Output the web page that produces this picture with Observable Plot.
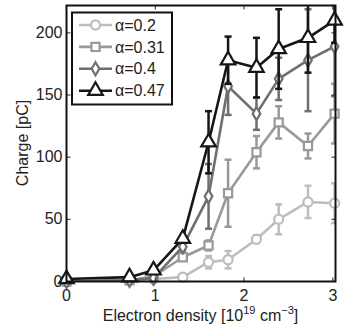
<!DOCTYPE html>
<html>
<head>
<meta charset="utf-8">
<script src="https://cdn.jsdelivr.net/npm/d3@7"></script>
<script src="https://cdn.jsdelivr.net/npm/@observablehq/plot@0.6"></script>
<style>
  html, body { margin: 0; padding: 0; background: #fff; }
  #wrap { position: relative; width: 356px; height: 329px; font-family: "Liberation Sans", Arial, Helvetica, sans-serif; }
  #wrap svg { display: block; }
  .xlabel { position: absolute; left: 0; width: 401px; text-align: center; top: 307px; font-size: 16px; line-height: 18px; color: #222; white-space: nowrap; }
  .xlabel sup { font-size: 11px; line-height: 0; vertical-align: 0; position: relative; top: -7px; }
  .ylabel { position: absolute; left: 23px; top: 143px; transform: translate(-50%, -50%) rotate(-90deg); font-size: 16px; color: #222; white-space: nowrap; }
  #legend { position: absolute; left: 0; top: 0; }
</style>
</head>
<body>
<div id="wrap">
  <div class="xlabel">Electron density [10<sup>19</sup> cm<sup>−3</sup>]</div>
  <div class="ylabel">Charge [pC]</div>
</div>
<script>
// ---- data ----
const density = [0, 0.71, 0.98, 1.31, 1.60, 1.82, 2.14, 2.39, 2.72, 3.02];
const seriesLabels = ["α=0.2", "α=0.31", "α=0.4", "α=0.47"];
const charge02  = [0, 1, 2, 3.5, 15.5, 17.5, 34, 50, 64, 63];
const err02     = [0, 0, 0, 2, 5, 7, 3, 12, 13, 16];
const charge031 = [0, 1, 4, 19.5, 29, 71, 104, 128, 109, 135];
const err031    = [0, 0, 0, 2, 4, 27, 13, 13, 10, 24];
const charge04  = [0, 1, 2.7, 28, 68.5, 157, 135, 163, 178, 189];
const err04     = [0, 0, 0, 3, 26, 23, 13, 17, 41, 40];
const charge047 = [2, 3.5, 9, 34.5, 112, 178, 172, 187, 196, 210];
const err047    = [0, 0, 0, 2, 25, 19, 24, 32, 28, 18];
const xTicks = [0, 1, 2, 3];
const yTicks = [0, 50, 100, 150, 200];

// ---- styles ----
const colors = ["#bdbdbd", "#999999", "#6f6f6f", "#161616"];
const symbols = ["circle", "square", "diamond", "triangle"];
const radii = [4.6, 4.6, 4.0, 5.4];
const charges = [charge02, charge031, charge04, charge047];
const errs = [err02, err031, err04, err047];

const capSymbol = {draw(ctx) { ctx.moveTo(-3.5, 0); ctx.lineTo(3.5, 0); }};
const tickUp = {draw(ctx) { ctx.moveTo(0, 0); ctx.lineTo(0, -4); }};
const tickDown = {draw(ctx) { ctx.moveTo(0, 0); ctx.lineTo(0, 4); }};
const tickRight = {draw(ctx) { ctx.moveTo(0, 0); ctx.lineTo(4, 0); }};
const tickLeft = {draw(ctx) { ctx.moveTo(0, 0); ctx.lineTo(-4, 0); }};

const marks = [];
charges.forEach((vals, s) => {
  const rows = density.map((x, i) => ({x, y: vals[i], e: errs[s][i]}));
  const withErr = rows.filter(d => d.e > 0);
  marks.push(Plot.ruleX(withErr, {x: "x", y1: d => d.y - d.e, y2: d => d.y + d.e, stroke: colors[s], strokeWidth: 2.5, clip: true}));
  marks.push(Plot.dot(withErr, {x: "x", y: d => d.y - d.e, symbol: capSymbol, stroke: colors[s], strokeWidth: 2.5, clip: true}));
  marks.push(Plot.dot(withErr, {x: "x", y: d => d.y + d.e, symbol: capSymbol, stroke: colors[s], strokeWidth: 2.5, clip: true}));
  marks.push(Plot.line(rows, {x: "x", y: "y", stroke: colors[s], strokeWidth: 2.6, clip: true}));
  marks.push(Plot.dot(rows, {x: "x", y: "y", symbol: symbols[s], r: radii[s], fill: "white", stroke: colors[s], strokeWidth: 2.2}));
});
// inward ticks on all four sides (MATLAB box style)
marks.push(Plot.dot(xTicks, {x: d => d, frameAnchor: "bottom", symbol: tickUp, stroke: "#222", strokeWidth: 1}));
marks.push(Plot.dot(xTicks, {x: d => d, frameAnchor: "top", symbol: tickDown, stroke: "#222", strokeWidth: 1}));
marks.push(Plot.dot(yTicks, {y: d => d, frameAnchor: "left", symbol: tickRight, stroke: "#222", strokeWidth: 1}));
marks.push(Plot.dot(yTicks, {y: d => d, frameAnchor: "right", symbol: tickLeft, stroke: "#222", strokeWidth: 1}));
marks.push(Plot.frame({stroke: "#111", strokeWidth: 2}));
marks.push(Plot.axisX(xTicks, {tickSize: 0, tickPadding: 8, label: null, fontSize: 16, fill: "#222"}));
marks.push(Plot.axisY(yTicks, {tickSize: 0, tickPadding: 4, label: null, fontSize: 16, fill: "#222"}));

const chart = Plot.plot({
  width: 356,
  height: 329,
  marginLeft: 66,
  marginRight: 21,
  marginTop: 5,
  marginBottom: 48,
  style: {fontFamily: "'Liberation Sans', Arial, Helvetica, sans-serif", fontSize: "16px", background: "white", overflow: "visible"},
  x: {domain: [0, 3.03]},
  y: {domain: [0, 222]},
  marks
});
const wrap = document.getElementById("wrap");
wrap.insertBefore(chart, wrap.firstChild);

// ---- legend (inside the axes, top-left) ----
const leg = d3.select(wrap).append("svg").attr("id", "legend").attr("width", 356).attr("height", 329);
leg.append("rect").attr("x", 72).attr("y", 12.5).attr("width", 100).attr("height", 92)
  .attr("fill", "white").attr("stroke", "#111").attr("stroke-width", 2);
const symMap = {circle: d3.symbolCircle, square: d3.symbolSquare, diamond: d3.symbolDiamond, triangle: d3.symbolTriangle};
seriesLabels.forEach((lab, s) => {
  const cy = 25 + s * 21.9;
  leg.append("line").attr("x1", 79).attr("x2", 112).attr("y1", cy).attr("y2", cy)
    .attr("stroke", colors[s]).attr("stroke-width", 2.6);
  leg.append("path").attr("d", d3.symbol(symMap[symbols[s]], Math.PI * radii[s] * radii[s])())
    .attr("transform", `translate(95.5,${cy})`).attr("fill", "white").attr("stroke", colors[s]).attr("stroke-width", 2.2);
  leg.append("text").attr("x", 115).attr("y", cy).attr("dy", "0.35em")
    .attr("font-family", "'Liberation Sans', Arial, Helvetica, sans-serif").attr("font-size", 16).attr("fill", "#222").text(lab);
});
</script>
</body>
</html>
